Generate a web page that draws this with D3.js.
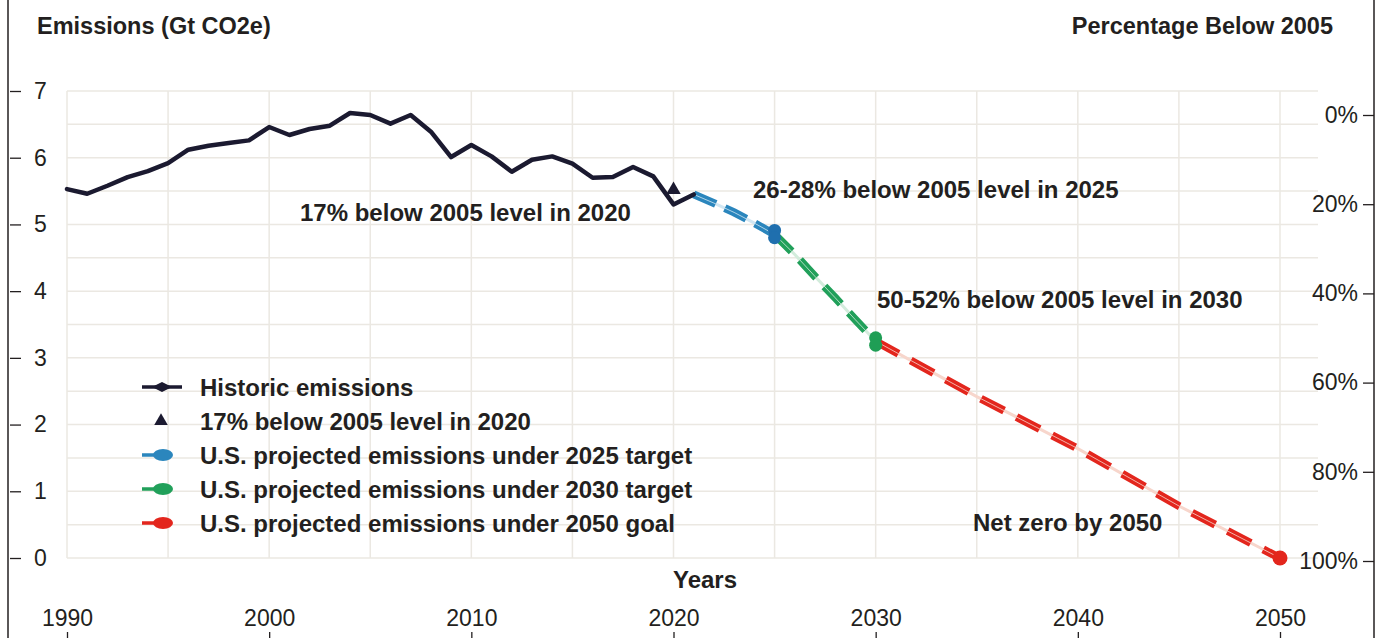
<!DOCTYPE html>
<html>
<head>
<meta charset="utf-8">
<script src="https://cdn.jsdelivr.net/npm/d3@7"></script>
<style>
  body { margin: 0; background: #fff; }
  text { font-family: "Liberation Sans", Arial, Helvetica, sans-serif; fill: #231f20; }
</style>
</head>
<body>
<svg id="chart"></svg>
<script>
// historic emissions, Gt CO2e
const histYears = [1990,1991,1992,1993,1994,1995,1996,1997,1998,1999,2000,2001,2002,2003,2004,2005,
  2006,2007,2008,2009,2010,2011,2012,2013,2014,2015,2016,2017,2018,2019,2020,2021];
const histValues = [5.53,5.46,5.58,5.71,5.80,5.92,6.12,6.18,6.22,6.26,6.46,6.34,6.43,6.48,6.67,6.64,
  6.51,6.64,6.39,6.01,6.19,6.02,5.79,5.97,6.02,5.91,5.70,5.71,5.86,5.72,5.30,5.45];

// 17% below 2005 in 2020
const target2020 = { year: 2020, value: 5.52 };

// projections
const proj2025Years = [2021,2022,2023,2024,2025];
const proj2025Values = [5.45,5.32,5.18,5.02,4.85];
const proj2030Years = [2025,2026,2027,2028,2029,2030];
const proj2030Values = [4.85,4.55,4.22,3.90,3.57,3.25];
const proj2050Years = [2030,2035,2040,2045,2050];
const proj2050Values = [3.25,2.42,1.64,0.78,0];

// target ranges at end points
const range2025 = [4.91, 4.80];
const range2030 = [3.30, 3.19];
const goal2050 = [0];

const yTicks = [0,1,2,3,4,5,6,7];
const pctTicks = [0,20,40,60,80,100];
const xTicks = [1990,2000,2010,2020,2030,2040,2050];

const legendLabels = ["Historic emissions", "17% below 2005 level in 2020",
  "U.S. projected emissions under 2025 target", "U.S. projected emissions under 2030 target",
  "U.S. projected emissions under 2050 goal"];

const W = 1382, H = 638;
const svg = d3.select('#chart').attr('width', W).attr('height', H);

const x = d3.scaleLinear().domain([1990, 2050]).range([67, 1280]);
const y = d3.scaleLinear().domain([0, 7]).range([558, 91]);
const yPct = d3.scaleLinear().domain([0, 100]).range([115, 561]);

// grid
const grid = svg.append('g').attr('stroke', '#ebe8e2').attr('stroke-width', 1.5);
grid.selectAll('.h').data(d3.range(0, 7.01, 0.5)).enter().append('line')
  .attr('x1', 67).attr('x2', 1318).attr('y1', d => y(d)).attr('y2', d => y(d));
grid.selectAll('.v').data(d3.range(1990, 2051, 5)).enter().append('line')
  .attr('x1', d => x(d)).attr('x2', d => x(d)).attr('y1', y(7)).attr('y2', y(0));

// frame lines
svg.append('line').attr('x1', 8).attr('x2', 8).attr('y1', 0).attr('y2', H).attr('stroke', '#231f20').attr('stroke-width', 1.5);
svg.append('line').attr('x1', 1374).attr('x2', 1374).attr('y1', 0).attr('y2', H).attr('stroke', '#231f20').attr('stroke-width', 1.5);

// left axis
const leftAxis = svg.append('g').attr('transform', 'translate(10,0)')
  .call(d3.axisRight(y).tickValues(yTicks).tickSize(11).tickPadding(13).tickFormat(d3.format('d')));
// right axis
const rightAxis = svg.append('g').attr('transform', 'translate(1374,0)')
  .call(d3.axisLeft(yPct).tickValues(pctTicks).tickSize(11).tickPadding(5).tickFormat(d => d + '%'));
// bottom axis
const bottomAxis = svg.append('g').attr('transform', `translate(0,${H})`)
  .call(d3.axisTop(x).tickValues(xTicks).tickSize(6).tickPadding(6).tickFormat(d3.format('d')));

[leftAxis, rightAxis, bottomAxis].forEach(a => {
  a.select('.domain').remove();
  a.selectAll('line').attr('stroke', '#231f20').attr('stroke-width', 1.3);
  a.selectAll('text').attr('font-size', 23).attr('fill', '#231f20')
    .attr('font-family', '"Liberation Sans", Arial, Helvetica, sans-serif');
});

// titles
svg.append('text').attr('x', 37).attr('y', 34).attr('font-size', 23.5).attr('font-weight', 'bold').text('Emissions (Gt CO2e)');
svg.append('text').attr('x', 1333).attr('y', 34).attr('text-anchor', 'end').attr('font-size', 23.5).attr('font-weight', 'bold').text('Percentage Below 2005');
svg.append('text').attr('x', 705).attr('y', 588).attr('text-anchor', 'middle').attr('font-size', 24).attr('font-weight', 'bold').text('Years');

const line = d3.line().x(d => x(d[0])).y(d => y(d[1]));

// projection bands: thick dashed stroke with a pale centre line
function drawProj(years, values, color, pale, dash) {
  const pts = years.map((yr, i) => [yr, values[i]]);
  svg.append('path').datum(pts).attr('d', line).attr('fill', 'none')
    .attr('stroke', pale).attr('stroke-width', 3);
  svg.append('path').datum(pts).attr('d', line).attr('fill', 'none')
    .attr('stroke', color).attr('stroke-width', 8).attr('stroke-dasharray', dash);
  svg.append('path').datum(pts).attr('d', line).attr('fill', 'none')
    .attr('stroke', pale).attr('stroke-width', 1).attr('stroke-opacity', 0.8);
}

drawProj(proj2050Years, proj2050Values, '#e3261d', '#f7d6cc', '26,14');
drawProj(proj2030Years, proj2030Values, '#21a05a', '#d3ecdc', '24,12');
drawProj(proj2025Years, proj2025Values, '#2b86bd', '#d2e7f3', '24,10');

// triangle marker 2020 (drawn under the line)
svg.append('path').attr('d', d3.symbol().type(d3.symbolTriangle).size(90))
  .attr('transform', `translate(${x(target2020.year)},${y(target2020.value)})`)
  .attr('fill', '#1b1a30');

// historic line
svg.append('path').datum(histYears.map((yr, i) => [yr, histValues[i]]))
  .attr('d', line).attr('fill', 'none').attr('stroke', '#1b1a30')
  .attr('stroke-width', 4.5).attr('stroke-linejoin', 'round').attr('stroke-linecap', 'round');

// end markers
svg.selectAll('.m25').data(range2025).enter().append('circle')
  .attr('cx', x(2025)).attr('cy', d => y(d)).attr('r', 6.5).attr('fill', '#1f6fae');
svg.selectAll('.m30').data(range2030).enter().append('circle')
  .attr('cx', x(2030)).attr('cy', d => y(d)).attr('r', 6.5).attr('fill', '#1f9e55');
svg.selectAll('.m50').data(goal2050).enter().append('circle')
  .attr('cx', x(2050)).attr('cy', d => y(d)).attr('r', 7.5).attr('fill', '#e3261d');

// annotations
const ann = [
  { t: '17% below 2005 level in 2020', x: 300, y: 221 },
  { t: '26-28% below 2005 level in 2025', x: 753, y: 198 },
  { t: '50-52% below 2005 level in 2030', x: 877, y: 308 },
  { t: 'Net zero by 2050', x: 973, y: 531 }
];
svg.selectAll('.ann').data(ann).enter().append('text')
  .attr('x', d => d.x).attr('y', d => d.y).attr('font-size', 24).attr('font-weight', 'bold').text(d => d.t);

// legend
const legColors = ['#1b1a30', '#1b1a30', '#2b86bd', '#21a05a', '#e3261d'];
const legend = svg.selectAll('.legend').data(legendLabels).enter().append('g')
  .attr('transform', (d, i) => `translate(0,${387 + 34 * i})`);

legend.each(function (d, i) {
  const g = d3.select(this);
  if (i === 0) {
    g.append('line').attr('x1', 142).attr('x2', 182).attr('stroke', legColors[i]).attr('stroke-width', 3.5);
    g.append('path').attr('d', 'M152,0 L162,-5 L172,0 L162,5 Z').attr('fill', legColors[i]);
  } else if (i === 1) {
    g.append('path').attr('d', d3.symbol().type(d3.symbolTriangle).size(80))
      .attr('transform', 'translate(161,0)').attr('fill', legColors[i]);
  } else {
    g.append('line').attr('x1', 142).attr('x2', 160).attr('stroke', legColors[i]).attr('stroke-width', 3.5);
    g.append('ellipse').attr('cx', 163).attr('cy', 0).attr('rx', 10).attr('ry', 6).attr('fill', legColors[i]);
  }
  g.append('text').attr('x', 200).attr('y', 8.5).attr('font-size', 24).attr('font-weight', 'bold').text(d);
});
</script>
</body>
</html>
